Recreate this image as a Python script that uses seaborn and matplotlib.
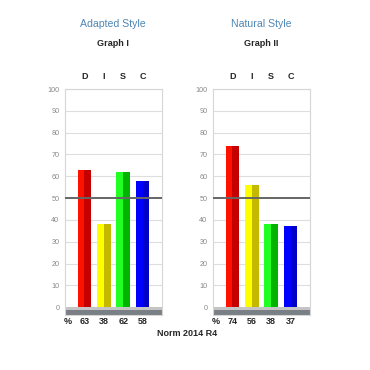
import pandas as pd
import seaborn as sns
import matplotlib.pyplot as plt
from matplotlib.patches import Rectangle

styles = ['Adapted Style', 'Natural Style']
graphs = ['Graph I', 'Graph II']
factors = ['D', 'I', 'S', 'C']
adapted = [63, 38, 62, 58]
natural = [74, 56, 38, 37]
norm_label = 'Norm 2014 R4'

bright = ['#ff1100', '#ffff00', '#22ff22', '#0000ff']
dark = ['#c40000', '#c4b800', '#00b400', '#0000c8']

sns.set_theme(style='white')
plt.rcParams['font.family'] = ['Liberation Sans', 'DejaVu Sans']

fig = plt.figure(figsize=(3.7, 3.7), dpi=100)
lefts = [65 / 370, 213 / 370]


def draw_panel(ax, values, style, graph, cx):
    df = pd.DataFrame({'factor': factors, 'value': values})
    sns.barplot(data=df, x='factor', y='value', hue='factor', palette=bright,
                legend=False, width=0.7, ax=ax, linewidth=0, saturation=1)
    # darker right half for the 3d look
    for patch, c in zip(ax.patches, dark):
        x0, w, h = patch.get_x(), patch.get_width(), patch.get_height()
        ax.add_patch(Rectangle((x0 + w * 0.5, 0), w * 0.5, h, color=c, lw=0, zorder=3))
        patch.set_zorder(3)
    ax.set_xlim(-1, 4)
    ax.set_ylim(-3.6, 100)
    ax.set_yticks(range(0, 101, 10))
    for y in range(10, 101, 10):
        ax.axhline(y, color='#dedede', lw=0.8, zorder=1)
    ax.axhline(50, color='#666666', lw=1.4, zorder=4)
    # floor
    ax.add_patch(Rectangle((-1, -1.5), 5, 1.5, color='#c4c4c4', lw=0, zorder=2))
    ax.add_patch(Rectangle((-1, -3.6), 5, 2.1, color='#7a7f85', lw=0, zorder=2))
    ax.tick_params(axis='y', labelsize=5.2, labelcolor='#888888', length=0, pad=4)
    ax.xaxis.tick_top()
    ax.tick_params(axis='x', labelsize=6.5, length=0, pad=6)
    for lab in ax.get_xticklabels():
        lab.set_fontweight('bold')
    ax.set_xlabel('')
    ax.set_ylabel('')
    for s in ax.spines.values():
        s.set_color('#d6d6d6')
        s.set_linewidth(0.8)
    tr = ax.get_xaxis_transform()
    yv = -7 / 226
    ax.text(-0.85, yv, '%', transform=tr, ha='center', va='center',
            fontsize=6.5, fontweight='bold')
    for i, v in enumerate(values):
        ax.text(i, yv, str(v), transform=tr, ha='center', va='center',
                fontsize=6.5, fontweight='bold')
    fig.text(cx, 1 - 24 / 370, style, ha='center', va='center',
             fontsize=7.6, color='#4f86b3')
    fig.text(cx, 1 - 43 / 370, graph, ha='center', va='center',
             fontsize=6.6, fontweight='bold')


for i, vals in enumerate([adapted, natural]):
    ax = fig.add_axes([lefts[i], 1 - 315 / 370, 97 / 370, (315 - 89) / 370])
    draw_panel(ax, vals, styles[i], graphs[i], lefts[i] + 48 / 370)

fig.text(187 / 370, 1 - 333 / 370, norm_label, ha='center', va='center',
         fontsize=6.5, fontweight='bold')

fig.savefig('out.png', dpi=100)
